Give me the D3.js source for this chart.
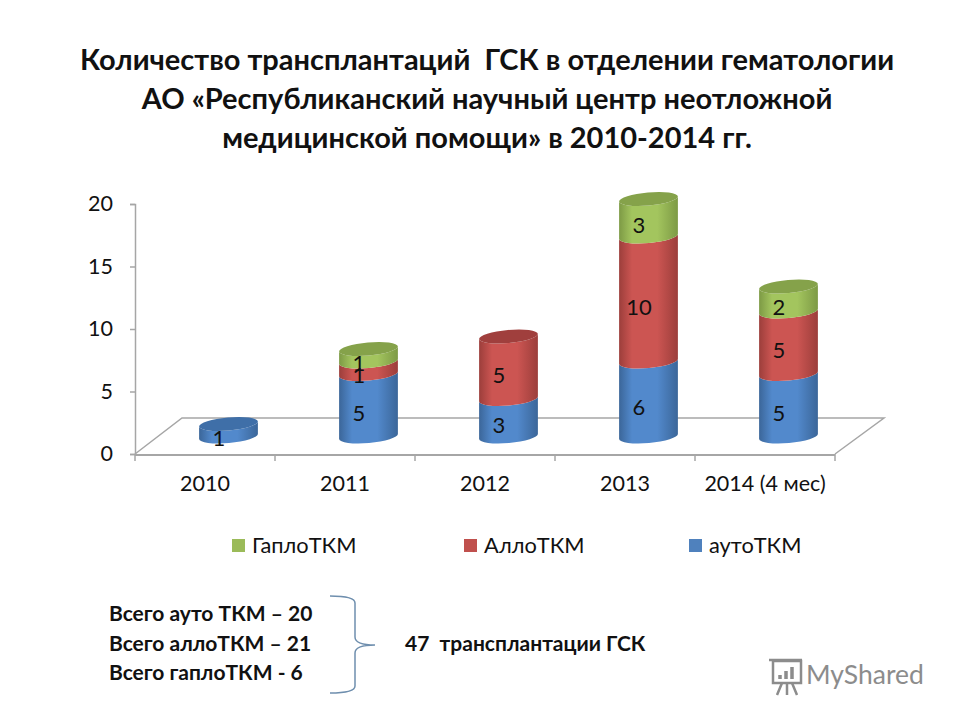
<!DOCTYPE html>
<html>
<head>
<meta charset="utf-8">
<script src="https://cdn.jsdelivr.net/npm/d3@7"></script>
<style>
    html, body { margin: 0; padding: 0; background: white; }
    text { font-family: "Lato", "Open Sans", "Liberation Sans", sans-serif; white-space: pre; }
</style>
</head>
<body>
<div id="chart"></div>
<script>
const categories = ["2010", "2011", "2012", "2013", "2014 (4 мес)"];
const autoTkm = [1, 5, 3, 6, 5];
const alloTkm = [0, 1, 5, 10, 5];
const haploTkm = [0, 1, 0, 3, 2];
const yTicks = [0, 5, 10, 15, 20];
const seriesNames = ["ГаплоТКМ", "АллоТКМ", "аутоТКМ"];
const titleLines = [
    "Количество трансплантаций  ГСК в отделении гематологии",
    "АО «Республиканский научный центр неотложной",
    "медицинской помощи» в 2010-2014 гг."
];
const noteLines = ["Всего ауто ТКМ – 20", "Всего аллоТКМ – 21", "Всего гаплоТКМ - 6"];
const totalNote = "47  трансплантации ГСК";

const width = 960, height = 720;
const depthX = 47, depthY = 36;
const rx = 29.5, ry = 6.5, tilt = 5;

const svg = d3.select("#chart").append("svg")
    .attr("width", width)
    .attr("height", height)
    .style("display", "block");

const x = d3.scaleBand().domain(categories).range([135, 835]);
const y = d3.scaleLinear().domain([0, 20]).range([454, 204]);

const colors = {
    auto: {edge: "#3b6699", mid: "#5289cc", cap: "#3f6fa8"},
    allo: {edge: "#9c3e3b", mid: "#cc5552", cap: "#a03f3d"},
    haplo: {edge: "#7d9a45", mid: "#a3c55e", cap: "#85a24a"}
};

const defs = svg.append("defs");
Object.keys(colors).forEach(function(k) {
    const g = defs.append("linearGradient").attr("id", "grad-" + k);
    g.append("stop").attr("offset", "0%").attr("stop-color", colors[k].edge);
    g.append("stop").attr("offset", "22%").attr("stop-color", colors[k].mid);
    g.append("stop").attr("offset", "65%").attr("stop-color", colors[k].mid);
    g.append("stop").attr("offset", "100%").attr("stop-color", colors[k].edge);
});

// title
svg.selectAll(".title").data(titleLines).enter().append("text")
    .attr("class", "title")
    .attr("x", 487)
    .attr("y", (d, i) => [70, 109, 148][i])
    .attr("text-anchor", "middle")
    .attr("font-size", 29)
    .attr("font-weight", "bold")
    .attr("fill", "#111")
    .text(d => d);

// floor
const floor = svg.append("g")
    .attr("fill", "none")
    .attr("stroke", "#a6a6a6");
floor.append("path")
    .attr("stroke-width", 1.5)
    .attr("d", d3.line()([
        [x.range()[0], y(0)],
        [x.range()[0] + depthX, y(0) - depthY],
        [x.range()[1] + depthX + 2, y(0) - depthY],
        [x.range()[1], y(0)]
    ]));
floor.append("line")
    .attr("stroke-width", 2)
    .attr("x1", x.range()[0]).attr("x2", x.range()[1])
    .attr("y1", y(0) + 1).attr("y2", y(0) + 1);
floor.selectAll(".sep").data(d3.range(categories.length + 1)).enter().append("line")
    .attr("class", "sep")
    .attr("stroke-width", 1.5)
    .attr("x1", i => x.range()[0] + i * x.step())
    .attr("x2", i => x.range()[0] + i * x.step())
    .attr("y1", y(0))
    .attr("y2", y(0) + 7);

// axes
const yAxis = svg.append("g")
    .attr("transform", "translate(135,0)")
    .call(d3.axisLeft(y).tickValues(yTicks).tickSize(5).tickPadding(17));
yAxis.selectAll("path, line").attr("stroke", "#a6a6a6").attr("stroke-width", 1.5);
yAxis.selectAll("text").attr("font-size", 21.5).attr("fill", "#111");

const xAxis = svg.append("g")
    .attr("transform", "translate(0,455)")
    .call(d3.axisBottom(x).tickSize(0).tickPadding(21));
xAxis.select(".domain").remove();
xAxis.selectAll("text").attr("font-size", 21.5).attr("fill", "#111");

// cylinders
const base = depthY / 2 - 0.5;
const dx = rx * Math.cos(tilt * Math.PI / 180);
const dy = rx * Math.sin(tilt * Math.PI / 180);

function centerX(cat) {
    return x(cat) + x.bandwidth() / 2 + depthX / 2;
}

function segmentPath(cx, yLow, yHigh) {
    return `M${cx - dx},${yLow + dy}`
        + `A${rx},${ry} ${-tilt} 0 0 ${cx + dx},${yLow - dy}`
        + `L${cx + dx},${yHigh - dy}`
        + `A${rx},${ry} ${-tilt} 0 1 ${cx - dx},${yHigh + dy}Z`;
}

const stack = d3.stack().keys(["auto", "allo", "haplo"])(categories.map(function(c, i) {
    return {cat: c, auto: autoTkm[i], allo: alloTkm[i], haplo: haploTkm[i]};
}));

const bars = svg.append("g");
stack.forEach(function(layer) {
    layer.forEach(function(d) {
        if (d[1] === d[0]) return;
        const cx = centerX(d.data.cat);
        bars.append("path")
            .attr("d", segmentPath(cx, y(d[0]) - base, y(d[1]) - base))
            .attr("fill", "url(#grad-" + layer.key + ")");
    });
});

// top caps drawn after all the segments
categories.forEach(function(c, i) {
    const total = autoTkm[i] + alloTkm[i] + haploTkm[i];
    const key = haploTkm[i] > 0 ? "haplo" : (alloTkm[i] > 0 ? "allo" : "auto");
    bars.append("ellipse")
        .attr("cx", centerX(c))
        .attr("cy", y(total) - base)
        .attr("rx", rx)
        .attr("ry", ry)
        .attr("transform", `rotate(${-tilt} ${centerX(c)} ${y(total) - base})`)
        .attr("fill", colors[key].cap);
});

// value labels
stack.forEach(function(layer) {
    layer.forEach(function(d) {
        if (d[1] === d[0]) return;
        svg.append("text")
            .attr("x", centerX(d.data.cat) - 9.5)
            .attr("y", y((d[0] + d[1]) / 2) - base + 8)
            .attr("dy", "0.35em")
            .attr("text-anchor", "middle")
            .attr("font-size", 22)
            .attr("fill", "#111")
            .text(d[1] - d[0]);
    });
});

// legend
const legendX = [232, 464, 689];
const legendColors = ["#9BBB59", "#C0504D", "#4F81BD"];
const legend = svg.selectAll(".legend").data(seriesNames).enter().append("g")
    .attr("class", "legend")
    .attr("transform", (d, i) => `translate(${legendX[i]},539)`);
legend.append("rect")
    .attr("width", 13)
    .attr("height", 13)
    .attr("fill", (d, i) => legendColors[i]);
legend.append("text")
    .attr("x", 20)
    .attr("y", 14)
    .attr("font-size", 21.8)
    .attr("fill", "#111")
    .text(d => d);

// notes under the chart
svg.selectAll(".note").data(noteLines).enter().append("text")
    .attr("class", "note")
    .attr("x", 109)
    .attr("y", (d, i) => 621 + i * 29.5)
    .attr("font-size", 21)
    .attr("font-weight", "bold")
    .attr("fill", "#111")
    .text(d => d);

svg.append("text")
    .attr("x", 405)
    .attr("y", 651)
    .attr("font-size", 21)
    .attr("font-weight", "bold")
    .attr("fill", "#111")
    .text(totalNote);

svg.append("path")
    .attr("d", "M330,596 Q355,596 355,603 L355,637 Q355,645 375,645 Q355,645 355,653 L355,686 Q355,693 330,693")
    .attr("fill", "none")
    .attr("stroke", "#6f8fae")
    .attr("stroke-width", 1.5);

// watermark
const mark = svg.append("g")
    .attr("fill", "none")
    .attr("stroke", "#8c8c8c")
    .attr("stroke-width", 2.5);
mark.append("rect").attr("x", 773).attr("y", 661).attr("width", 28).attr("height", 22);
mark.append("path").attr("d", "M769,660 L802,660 M782,683 L777,695 M792,683 L797,695 M787,683 L787,695");
mark.append("path").attr("d", "M780,679 L780,675 M786,679 L786,671 M792,679 L792,667").attr("stroke-width", 3.5);
svg.append("text")
    .attr("x", 806)
    .attr("y", 684)
    .attr("font-size", 26.5)
    .attr("fill", "#8c8c8c")
    .text("MyShared");
</script>
</body>
</html>
